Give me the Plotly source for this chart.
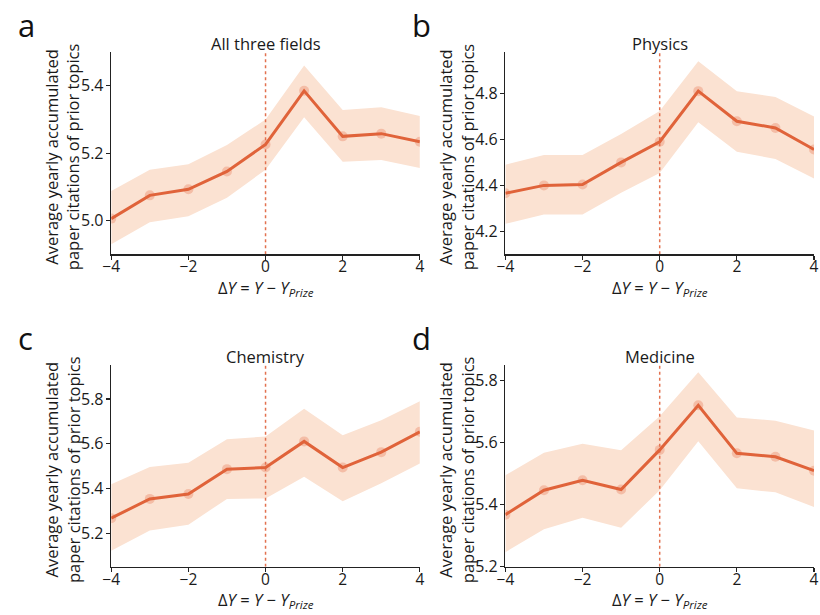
import plotly.graph_objects as go

# ---------------- data ----------------
dy = [-4, -3, -2, -1, 0, 1, 2, 3, 4]

all_mean = [5.006, 5.075, 5.093, 5.146, 5.226, 5.385, 5.250, 5.258, 5.234]
all_up = [5.088, 5.151, 5.167, 5.224, 5.300, 5.460, 5.328, 5.336, 5.310]
all_lo = [4.930, 4.995, 5.013, 5.068, 5.151, 5.307, 5.175, 5.180, 5.156]

phy_mean = [4.366, 4.400, 4.404, 4.500, 4.590, 4.810, 4.679, 4.650, 4.556]
phy_up = [4.490, 4.532, 4.532, 4.624, 4.724, 4.940, 4.810, 4.785, 4.700]
phy_lo = [4.233, 4.273, 4.273, 4.368, 4.454, 4.675, 4.546, 4.515, 4.430]

che_mean = [5.267, 5.353, 5.375, 5.486, 5.493, 5.610, 5.493, 5.562, 5.653]
che_up = [5.419, 5.496, 5.515, 5.620, 5.632, 5.756, 5.638, 5.705, 5.790]
che_lo = [5.121, 5.212, 5.238, 5.353, 5.355, 5.452, 5.343, 5.423, 5.511]

med_mean = [5.368, 5.447, 5.479, 5.449, 5.577, 5.721, 5.566, 5.555, 5.510]
med_up = [5.495, 5.568, 5.597, 5.576, 5.686, 5.828, 5.682, 5.671, 5.640]
med_lo = [5.247, 5.321, 5.358, 5.326, 5.447, 5.605, 5.453, 5.440, 5.393]

titles = ["All three fields", "Physics", "Chemistry", "Medicine"]
letters = ["a", "b", "c", "d"]
y_ranges = [[4.9, 5.5], [4.1, 4.98], [5.05, 5.95], [5.2, 5.85]]
y_ticks = [[5.0, 5.2, 5.4], [4.2, 4.4, 4.6, 4.8], [5.2, 5.4, 5.6, 5.8], [5.2, 5.4, 5.6, 5.8]]
x_ticks = [-4, -2, 0, 2, 4]
x_tick_text = ["\u22124", "\u22122", "0", "2", "4"]

series = [
    (all_mean, all_up, all_lo),
    (phy_mean, phy_up, phy_lo),
    (che_mean, che_up, che_lo),
    (med_mean, med_up, med_lo),
]

# ---------------- layout geometry (pixels) ----------------
W, H = 820, 615
px_x = [(104, 418), (505, 819), (104, 418), (505, 819)]
px_y = [(53, 259), (53, 259), (372, 577), (372, 577)]

LINE = "#e0633a"
BAND = "#fbe2d2"
DOT = "#e2714f"
TXT = "#1a1a1a"
FONT = "Open Sans"

fig = go.Figure()
annotations = []


def fx(p):
    return p / W


def fy(p):
    return 1 - p / H


for i in range(4):
    mean, up, lo = series[i]
    ax = "" if i == 0 else str(i + 1)
    xref = "x" + ax
    yref = "y" + ax
    # confidence band
    fig.add_trace(go.Scatter(x=dy, y=up, mode="lines", line=dict(width=0, color=BAND),
                             showlegend=False, hoverinfo="skip", xaxis=xref, yaxis=yref))
    fig.add_trace(go.Scatter(x=dy, y=lo, mode="lines", line=dict(width=0, color=BAND),
                             fill="tonexty", fillcolor=BAND, showlegend=False,
                             hoverinfo="skip", xaxis=xref, yaxis=yref))
    # dotted vertical line at 0
    fig.add_trace(go.Scatter(x=[0, 0], y=y_ranges[i], mode="lines",
                             line=dict(color=DOT, width=1.5, dash="dot"),
                             showlegend=False, hoverinfo="skip", xaxis=xref, yaxis=yref))
    # faint markers + line
    fig.add_trace(go.Scatter(x=dy, y=mean, mode="markers",
                             marker=dict(color="rgba(232, 120, 85, 0.35)", size=10),
                             showlegend=False, xaxis=xref, yaxis=yref))
    fig.add_trace(go.Scatter(x=dy, y=mean, mode="lines", line=dict(color=LINE, width=3),
                             showlegend=False, xaxis=xref, yaxis=yref))

    x0, x1 = px_x[i]
    y0, y1 = px_y[i]
    common = dict(showline=True, linecolor="#222222", linewidth=1.5, ticks="outside",
                  ticklen=4, tickwidth=1.2, tickcolor="#222222", showgrid=False,
                  zeroline=False, fixedrange=True)
    xa = dict(domain=[fx(x0), fx(x1)], range=[-4, 4], tickvals=x_ticks,
              ticktext=x_tick_text, anchor=yref, ticklabelstandoff=-6,
              tickfont=dict(family=FONT, size=15.5, color=TXT), **common)
    ya = dict(domain=[fy(y1), fy(y0)], range=y_ranges[i], tickvals=y_ticks[i],
              tickformat=".1f", anchor=xref, ticklabelstandoff=-1,
              tickfont=dict(family=FONT, size=16, color=TXT), **common)
    fig.layout["xaxis" + ax] = xa
    fig.layout["yaxis" + ax] = ya

    # title
    annotations.append(dict(text=titles[i], x=fx((x0 + x1) / 2), y=fy(y0 - 9),
                            xref="paper", yref="paper", showarrow=False,
                            xanchor="center", yanchor="middle",
                            font=dict(family=FONT, size=16.5, color=TXT)))
    # panel letter
    annotations.append(dict(text=letters[i], x=fx(x0 - 97), y=fy(y0 - 28),
                            xref="paper", yref="paper", showarrow=False,
                            xanchor="left", yanchor="middle",
                            font=dict(family=FONT, size=31, color="#111111")))
    # y label
    annotations.append(dict(text="Average yearly accumulated<br>paper citations of prior topics",
                            x=fx(x0 - 50), y=fy((y0 + y1) / 2 + 4),
                            xref="paper", yref="paper", showarrow=False, textangle=-90,
                            xanchor="center", yanchor="middle",
                            font=dict(family=FONT, size=16.5, color=TXT)))
    # x label
    annotations.append(dict(text="\u0394<i>Y</i> = <i>Y</i> \u2212 <i>Y</i><sub><i>Prize</i></sub>",
                            x=fx((x0 + x1) / 2), y=fy(y1 + 34),
                            xref="paper", yref="paper", showarrow=False,
                            xanchor="center", yanchor="middle",
                            font=dict(family=FONT, size=16.5, color=TXT)))

fig.update_layout(width=W, height=H, margin=dict(l=0, r=0, t=0, b=0),
                  paper_bgcolor="white", plot_bgcolor="white",
                  annotations=annotations, showlegend=False)

fig.write_html("out.html", config={"displayModeBar": False, "staticPlot": True},
               post_script="document.body.style.margin='0';document.body.style.overflow='hidden';")
